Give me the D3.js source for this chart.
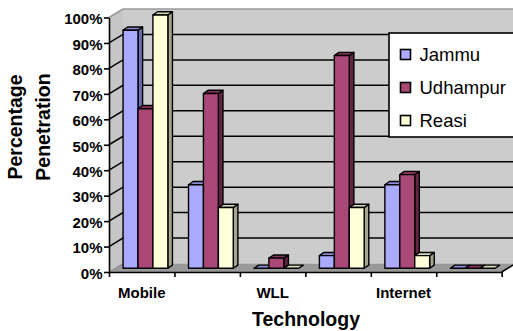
<!DOCTYPE html>
<html>
<head>
<meta charset="utf-8">
<script src="https://cdn.jsdelivr.net/npm/d3@7/dist/d3.min.js"></script>
<style>
  html, body { margin: 0; padding: 0; background: #ffffff; }
  svg { display: block; font-family: "Liberation Sans", Arial, sans-serif; }
</style>
</head>
<body>
<svg id="chart" width="513" height="331"></svg>
<script>
// ---- data ----
const categories = ["Mobile", "", "WLL", "", "Internet", ""];
const seriesNames = ["Jammu", "Udhampur", "Reasi"];
const jammu    = [0.94, 0.33, 0.00, 0.05, 0.33, 0.00];
const udhampur = [0.63, 0.69, 0.04, 0.84, 0.37, 0.00];
const reasi    = [1.00, 0.24, 0.00, 0.24, 0.05, 0.00];
const yTickValues = [0, 0.1, 0.2, 0.3, 0.4, 0.5, 0.6, 0.7, 0.8, 0.9, 1.0];
const yTitle = ["Percentage", "Penetration"];
const xTitle = "Technology";

(function () {
const seriesValues = [jammu, udhampur, reasi];
const colors = {
  front: ["#aaaaff", "#aa4878", "#ffffd9"],
  side:  ["#6f6fb0", "#642545", "#a6a68c"],
  top:   ["#8b8bd6", "#86345c", "#d9d9b6"]
};

// ---- layout ----
const svg = d3.select("#chart");
const pL = 109, pR = 501.7, pB = 272, pT = 17.5;
const wallDx = 14, wallDy = -8.5;       // depth of floor / walls
const barDx = 4.6, barDy = -3.2;        // depth of each bar
const idx = d3.range(categories.length);

const x = d3.scaleBand().domain(idx).range([pL, pR]).padding(0);
const xLin = d3.scaleLinear().domain([0, categories.length]).range([pL, pR]);
const bw = x.bandwidth();
const x1 = d3.scaleBand().domain(seriesNames).range([bw * 0.215, bw * 0.215 + bw * 0.684]).padding(0);
const y = d3.scaleLinear().domain([0, 1]).range([pB, pT]);
const yBar = d3.scaleLinear().domain([0, 1]).range([pB - 3.7, pT - 2.5]);

// back wall
const backL = pL + wallDx, backR = pR + wallDx + 40;
svg.append("polygon")
  .attr("points", [[backL, y(1) + wallDy], [backR, y(1) + wallDy], [backR, y(0) + wallDy], [backL, y(0) + wallDy]].join(" "))
  .attr("fill", "#cccccc");
// side wall
svg.append("polygon")
  .attr("points", [[pL, y(1)], [backL, y(1) + wallDy], [backL, y(0) + wallDy], [pL, y(0)]].join(" "))
  .attr("fill", "#c6c6c6");
// floor
svg.append("polygon")
  .attr("points", [[pL, y(0)], [pR, y(0)], [pR + wallDx, y(0) + wallDy], [backL, y(0) + wallDy]].join(" "))
  .attr("fill", "#999999");

// gridlines (side + back)
const grid = svg.append("g");
yTickValues.filter(v => v > 0 && v < 1).forEach(v => {
  grid.append("polyline")
    .attr("points", [[pL, y(v)], [backL, y(v) + wallDy], [backR, y(v) + wallDy]].join(" "))
    .attr("fill", "none").attr("stroke", "#000").attr("stroke-width", 1.5);
});
// top border of walls
svg.append("polyline")
  .attr("points", [[pL, y(1)], [backL, y(1) + wallDy], [backR, y(1) + wallDy]].join(" "))
  .attr("fill", "none").attr("stroke", "#999").attr("stroke-width", 1.5);
// bottom line of side wall (0%)
svg.append("line")
  .attr("x1", pL).attr("y1", y(0)).attr("x2", backL).attr("y2", y(0) + wallDy)
  .attr("stroke", "#888").attr("stroke-width", 1);

// bars
const bars = svg.append("g").attr("stroke", "#000").attr("stroke-width", 1.4).attr("stroke-linejoin", "round");
idx.forEach(i => {
  seriesNames.forEach((s, k) => {
    const v = seriesValues[k][i];
    const x0 = x(i) + x1(s), w = x1.bandwidth();
    const yt = yBar(v), yb = yBar(0);
    const g = bars.append("g");
    if (v > 0) {
      g.append("polygon")
        .attr("points", [[x0 + w, yt], [x0 + w + barDx, yt + barDy], [x0 + w + barDx, yb + barDy], [x0 + w, yb]].join(" "))
        .attr("fill", colors.side[k]);
    }
    g.append("polygon")
      .attr("points", [[x0, yt], [x0 + barDx, yt + barDy], [x0 + w + barDx, yt + barDy], [x0 + w, yt]].join(" "))
      .attr("fill", colors.top[k]);
    if (v > 0) {
      g.append("rect").attr("x", x0).attr("y", yt).attr("width", w).attr("height", yb - yt)
        .attr("fill", colors.front[k]);
    }
  });
});

// floor right edge
svg.append("line")
  .attr("x1", pR).attr("y1", y(0)).attr("x2", pR + wallDx).attr("y2", y(0) + wallDy)
  .attr("stroke", "#000").attr("stroke-width", 1.5);

// y axis
const yAxis = svg.append("g").attr("transform", `translate(${pL},0)`)
  .call(d3.axisLeft(y).tickValues(yTickValues).tickFormat(d3.format(".0%")).tickSize(5).tickSizeOuter(0).tickPadding(1.5));
yAxis.select(".domain").attr("stroke", "#000").attr("stroke-width", 1.6);
yAxis.selectAll(".tick line").attr("stroke", "#000").attr("stroke-width", 1.6);
yAxis.selectAll(".tick text").attr("font-size", 15).attr("font-weight", "bold")
  .attr("fill", "#000").attr("font-family", "Liberation Sans, Arial, sans-serif").attr("dy", "0.42em");

// x axis ticks (category boundaries)
const xTicks = svg.append("g").attr("transform", `translate(0,${pB})`)
  .call(d3.axisBottom(xLin).tickValues(d3.range(categories.length + 1)).tickFormat("").tickSize(5).tickSizeOuter(0));
xTicks.select(".domain").attr("stroke", "#000").attr("stroke-width", 1.6);
xTicks.selectAll(".tick line").attr("stroke", "#000").attr("stroke-width", 1.6);

// x axis labels
const xAxis = svg.append("g").attr("transform", `translate(0,${pB})`)
  .call(d3.axisBottom(x).tickFormat(i => categories[i]).tickSize(0).tickPadding(15.5));
xAxis.select(".domain").remove();
xAxis.selectAll(".tick text").attr("font-size", 15).attr("font-weight", "bold")
  .attr("fill", "#000").attr("font-family", "Liberation Sans, Arial, sans-serif");

// axis titles
svg.append("text").attr("x", 306).attr("y", 326).attr("text-anchor", "middle")
  .attr("font-size", 19.5).attr("font-weight", "bold").text(xTitle);
yTitle.forEach((t, j) => {
  svg.append("text")
    .attr("transform", `translate(${22 + j * 28},127) rotate(-90)`)
    .attr("text-anchor", "middle").attr("font-size", 19.5).attr("font-weight", "bold").text(t);
});

// legend
const lg = svg.append("g");
lg.append("rect").attr("x", 389).attr("y", 33).attr("width", 140).attr("height", 104)
  .attr("fill", "#fff").attr("stroke", "#000").attr("stroke-width", 1.6);
seriesNames.forEach((s, k) => {
  const cy = 54.5 + k * 33;
  lg.append("rect").attr("x", 400.5).attr("y", cy - 5).attr("width", 10).attr("height", 10)
    .attr("fill", colors.front[k]).attr("stroke", "#000").attr("stroke-width", 1.6);
  lg.append("text").attr("x", 419.5).attr("y", cy).attr("dy", "0.36em")
    .attr("font-size", 18.5).attr("fill", "#000").text(s);
});
})();
</script>
</body>
</html>
